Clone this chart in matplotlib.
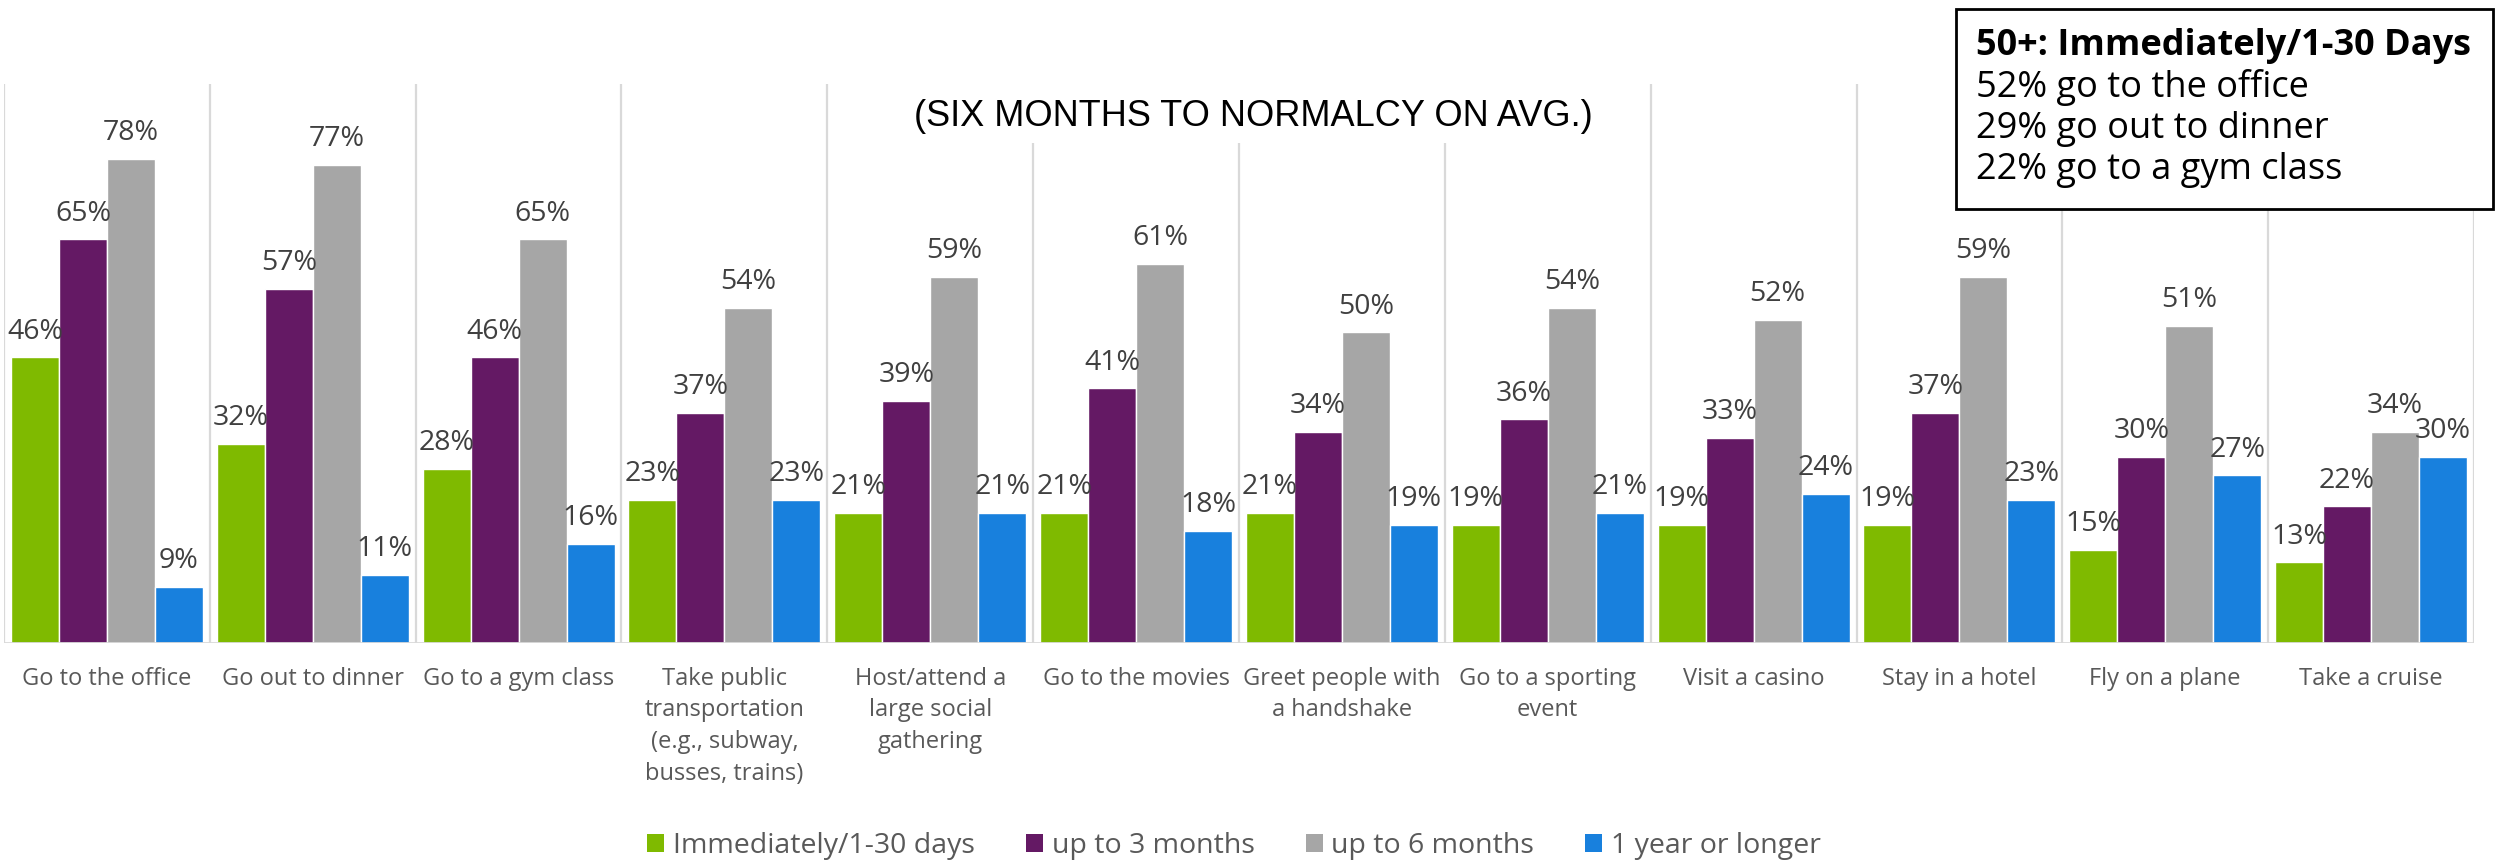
import numpy as np
import matplotlib
matplotlib.use("Agg")
import matplotlib.pyplot as plt
from matplotlib.patches import Rectangle, Patch

# data
categories = [
    "Go to the office", "Go out to dinner", "Go to a gym class",
    "Take public\ntransportation\n(e.g., subway,\nbusses, trains)",
    "Host/attend a\nlarge social\ngathering", "Go to the movies",
    "Greet people with\na handshake", "Go to a sporting\nevent",
    "Visit a casino", "Stay in a hotel", "Fly on a plane", "Take a cruise",
]
series_names = ["Immediately/1-30 days", "up to 3 months", "up to 6 months", "1 year or longer"]
immediately = [46, 32, 28, 23, 21, 21, 21, 19, 19, 19, 15, 13]
three_months = [65, 57, 46, 37, 39, 41, 34, 36, 33, 37, 30, 22]
six_months = [78, 77, 65, 54, 59, 61, 50, 54, 52, 59, 51, 34]
one_year = [9, 11, 16, 23, 21, 18, 19, 21, 24, 23, 27, 30]
colors = ["#7FBA00", "#641964", "#A6A6A6", "#1880DD"]

title_txt = "(SIX MONTHS TO NORMALCY ON AVG.)"
box_head = "50+: Immediately/1-30 Days"
box_lines = ["52% go to the office", "29% go out to dinner", "22% go to a gym class"]

FONT = "Open Sans"
W, H = 2496, 865

fig = plt.figure(figsize=(W / 100, H / 100), dpi=100)

# plot area in pixel terms -> figure fractions
x0, x1, ytop, ybase = 4, 2474, 84, 643
ax = fig.add_axes([x0 / W, (H - ybase) / H, (x1 - x0) / W, (ybase - ytop) / H])

n = len(categories)
x = np.arange(n)
slot = 0.233
all_series = [immediately, three_months, six_months, one_year]

for i, (vals, col) in enumerate(zip(all_series, colors)):
    xpos = x + (i - 1.5) * slot
    ax.bar(xpos, vals, width=slot, color=col, edgecolor="white", linewidth=1.0, zorder=2)
    for xp, v in zip(xpos, vals):
        ax.annotate(f"{v}%", (xp, v), xytext=(0, 13.5), textcoords="offset points",
                    ha="center", va="baseline", fontsize=20.5, family=FONT,
                    color="#404040", zorder=3)

ax.set_xlim(-0.5, n - 0.5)
ax.set_ylim(0, 90)

# vertical separators between categories + baseline
for k in range(n + 1):
    ax.axvline(k - 0.5, color="#D9D9D9", linewidth=1.6, zorder=0.5)
ax.axhline(0, color="#D9D9D9", linewidth=2, zorder=2.5)

for s in ax.spines.values():
    s.set_visible(False)
ax.set_yticks([])
ax.set_xticks(x)
ax.set_xticklabels(categories, fontsize=17, family=FONT, color="#595959", linespacing=1.43)
ax.tick_params(axis="x", length=0, pad=17)

# title with white background hiding the separators
fig.add_artist(Rectangle((880 / W, (H - 143) / H), 750 / W, 59 / H,
                         transform=fig.transFigure, facecolor="white",
                         edgecolor="none", zorder=1))
fig.text(1253 / W, (H - 117) / H, title_txt, ha="center", va="center",
         fontsize=26, family="Liberation Sans", color="black", zorder=2)

# callout box, top right
fig.add_artist(Rectangle((1956 / W, (H - 209) / H), 537 / W, 200 / H,
                         transform=fig.transFigure, facecolor="white",
                         edgecolor="black", linewidth=2, zorder=1))
fig.text(1976 / W, (H - 46) / H, box_head, ha="left", va="center",
         fontsize=26, family=FONT, fontweight="bold", color="black", zorder=2)
for j, line in enumerate(box_lines):
    fig.text(1976 / W, (H - (88 + 41 * j)) / H, line, ha="left", va="center",
             fontsize=26, family=FONT, color="black", zorder=2)

handles = [Patch(facecolor=c, edgecolor="none") for c in colors]
fig.legend(handles, series_names, loc="center", bbox_to_anchor=(1234 / W, (H - 846) / H),
           ncol=4, frameon=False, prop={"family": FONT, "size": 20.5},
           labelcolor="#595959", handlelength=0.6, handleheight=0.6,
           handletextpad=0.3, columnspacing=1.8)

fig.savefig("out.png", dpi=100)
